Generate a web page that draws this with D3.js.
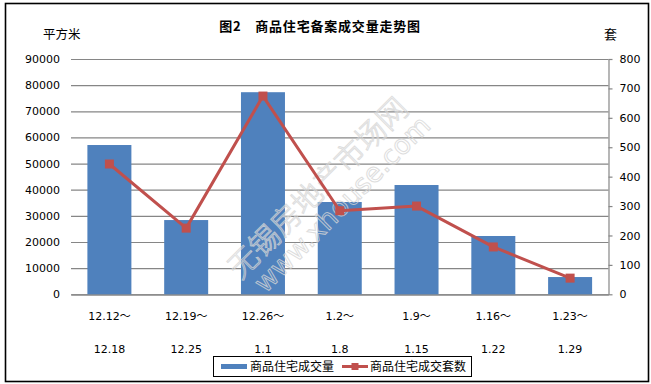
<!DOCTYPE html>
<html>
<head>
<meta charset="utf-8">
<script src="https://cdn.jsdelivr.net/npm/d3@7"></script>
<style>
	body { margin: 0; background: #fff; }
	text { font-family: "DejaVu Sans", sans-serif; }
	.cjk { font-family: "Noto Sans CJK SC", sans-serif; }
</style>
</head>
<body>
<script>
// week ranges (two-line tick labels)
let weekStart = ["12.12～", "12.19～", "12.26～", "1.2～", "1.9～", "1.16～", "1.23～"];
let weekEnd = ["12.18", "12.25", "1.1", "1.8", "1.15", "1.22", "1.29"];

// 商品住宅成交量 (平方米), bars on left axis
let areaValues = [57100, 28400, 77300, 35300, 41800, 22300, 6600];
// 商品住宅成交套数 (套), line on right axis
let unitValues = [443, 225, 674, 284, 300, 161, 55];

let leftTicks = [0, 10000, 20000, 30000, 40000, 50000, 60000, 70000, 80000, 90000];
let rightTicks = [0, 100, 200, 300, 400, 500, 600, 700, 800];

let data = weekStart.map(function(s, i) {
	return {key: s + weekEnd[i], start: s, end: weekEnd[i], area: areaValues[i], units: unitValues[i]};
});

// Set the dimensions of the canvas / plot area
let W = 651, H = 384;
let plot = {left: 71, right: 608.5, top: 59, bottom: 294.3};

let barColor = "#4F81BD",
	lineColor = "#C0504D",
	gridColor = "#868686";

let svg = d3.select("body")
			.append("svg")
			.attr("width", W)
			.attr("height", H);

svg.append("rect")
	.attr("width", W).attr("height", H)
	.attr("fill", "#fff");

// outer frame
svg.append("rect")
	.attr("x", 5.5).attr("y", 3.5)
	.attr("width", 643).attr("height", 378)
	.attr("fill", "none")
	.attr("stroke", "#000")
	.attr("stroke-width", 1.6);

// scales
let xScale = d3.scaleBand()
	.domain(data.map(function(d) { return d.key; }))
	.range([plot.left, plot.right])
	.paddingInner(0.427)
	.paddingOuter(0.2135);

let yLeft = d3.scaleLinear().domain([0, 90000]).range([plot.bottom, plot.top]);
let yRight = d3.scaleLinear().domain([0, 800]).range([plot.bottom, plot.top]);

// left axis with gridlines
let yAxisEl = svg.append("g")
	.attr("transform", "translate(" + plot.left + ",0)")
	.call(d3.axisLeft(yLeft)
		.tickValues(leftTicks)
		.tickFormat(d3.format("d"))
		.tickSize(-(plot.right - plot.left))
		.tickPadding(11));
yAxisEl.select(".domain").remove();
yAxisEl.selectAll(".tick line")
	.attr("stroke", gridColor)
	.attr("stroke-width", 1.2);
yAxisEl.selectAll(".tick text")
	.attr("font-size", "11px")
	.attr("fill", "#000");

// right axis
let yRightEl = svg.append("g")
	.attr("transform", "translate(" + plot.right + ",0)")
	.call(d3.axisRight(yRight)
		.tickValues(rightTicks)
		.tickSize(4)
		.tickSizeOuter(0)
		.tickPadding(7));
yRightEl.selectAll(".domain, .tick line")
	.attr("stroke", gridColor)
	.attr("stroke-width", 1.2);
yRightEl.selectAll(".tick text")
	.attr("font-size", "11px")
	.attr("fill", "#000");

// bottom axis: line plus two-line labels
let xAxisEl = svg.append("g")
	.attr("transform", "translate(0," + plot.bottom + ")")
	.call(d3.axisBottom(xScale).tickSize(0).tickSizeOuter(0).tickFormat(""));
xAxisEl.select(".domain")
	.attr("stroke", gridColor)
	.attr("stroke-width", 1.2);
xAxisEl.selectAll(".tick text").remove();
xAxisEl.selectAll(".tick").each(function(key) {
	let d = data.find(function(e) { return e.key === key; });
	let t = d3.select(this);
	let top = t.append("text")
		.attr("y", 26)
		.attr("text-anchor", "middle")
		.attr("font-size", "11px")
		.attr("fill", "#000");
	// the wave dash is a full-width glyph, give it the CJK font
	top.append("tspan").text(d.start.replace("～", ""));
	top.append("tspan").attr("class", "cjk").text("～");
	t.append("text")
		.attr("y", 59)
		.attr("text-anchor", "middle")
		.attr("font-size", "11px")
		.attr("fill", "#000")
		.text(d.end);
});

// bars
svg.append("g")
	.selectAll("rect")
	.data(data)
	.join("rect")
	.attr("x", function(d) { return xScale(d.key); })
	.attr("y", function(d) { return yLeft(d.area); })
	.attr("width", xScale.bandwidth())
	.attr("height", function(d) { return yLeft(0) - yLeft(d.area); })
	.attr("fill", barColor);

// watermark
let wm = svg.append("g")
	.attr("fill", "none")
	.attr("stroke", "#d6d6d6")
	.attr("stroke-width", 1)
	.attr("opacity", 0.8);
wm.append("text")
	.attr("class", "cjk")
	.attr("transform", "translate(318,188) rotate(-45)")
	.attr("text-anchor", "middle")
	.attr("dy", "0.35em")
	.attr("font-size", "30px")
	.attr("font-weight", 300)
	.text("无锡房地产市场网");
wm.append("text")
	.attr("transform", "translate(342,204) rotate(-45)")
	.attr("text-anchor", "middle")
	.attr("dy", "0.35em")
	.attr("font-size", "27px")
	.text("www.xhouse.com");

// line + markers
let line = d3.line()
	.x(function(d) { return xScale(d.key) + xScale.bandwidth() / 2; })
	.y(function(d) { return yRight(d.units); });

svg.append("path")
	.datum(data)
	.attr("d", line)
	.attr("fill", "none")
	.attr("stroke", lineColor)
	.attr("stroke-width", 3)
	.attr("stroke-linejoin", "round");

let ms = 9;
svg.append("g")
	.selectAll("rect")
	.data(data)
	.join("rect")
	.attr("x", function(d) { return xScale(d.key) + xScale.bandwidth() / 2 - ms / 2; })
	.attr("y", function(d) { return yRight(d.units) - ms / 2; })
	.attr("width", ms)
	.attr("height", ms)
	.attr("fill", lineColor);

// title and axis units
svg.append("text")
	.attr("class", "cjk")
	.attr("x", 320).attr("y", 31)
	.attr("text-anchor", "middle")
	.attr("font-size", "13px")
	.attr("font-weight", "bold")
	.attr("letter-spacing", "0.8px")
	.text("图2　商品住宅备案成交量走势图");

svg.append("text")
	.attr("class", "cjk")
	.attr("x", 43).attr("y", 39)
	.attr("font-size", "12.5px")
	.text("平方米");

svg.append("text")
	.attr("class", "cjk")
	.attr("x", 604).attr("y", 39)
	.attr("font-size", "13px")
	.text("套");

// legend
let legend = svg.append("g").attr("transform", "translate(213,356)");
legend.append("rect")
	.attr("x", 0.5).attr("y", 0.5)
	.attr("width", 258).attr("height", 20)
	.attr("fill", "#fff")
	.attr("stroke", "#000");
legend.append("rect")
	.attr("x", 8).attr("y", 8)
	.attr("width", 26).attr("height", 5)
	.attr("fill", barColor);
legend.append("text")
	.attr("class", "cjk")
	.attr("x", 37).attr("y", 15)
	.attr("font-size", "12px")
	.text("商品住宅成交量");
legend.append("line")
	.attr("x1", 129).attr("x2", 155)
	.attr("y1", 10.5).attr("y2", 10.5)
	.attr("stroke", lineColor)
	.attr("stroke-width", 3);
legend.append("rect")
	.attr("x", 138.5).attr("y", 7)
	.attr("width", 7).attr("height", 7)
	.attr("fill", lineColor);
legend.append("text")
	.attr("class", "cjk")
	.attr("x", 157).attr("y", 15)
	.attr("font-size", "12px")
	.text("商品住宅成交套数");
</script>
</body>
</html>
